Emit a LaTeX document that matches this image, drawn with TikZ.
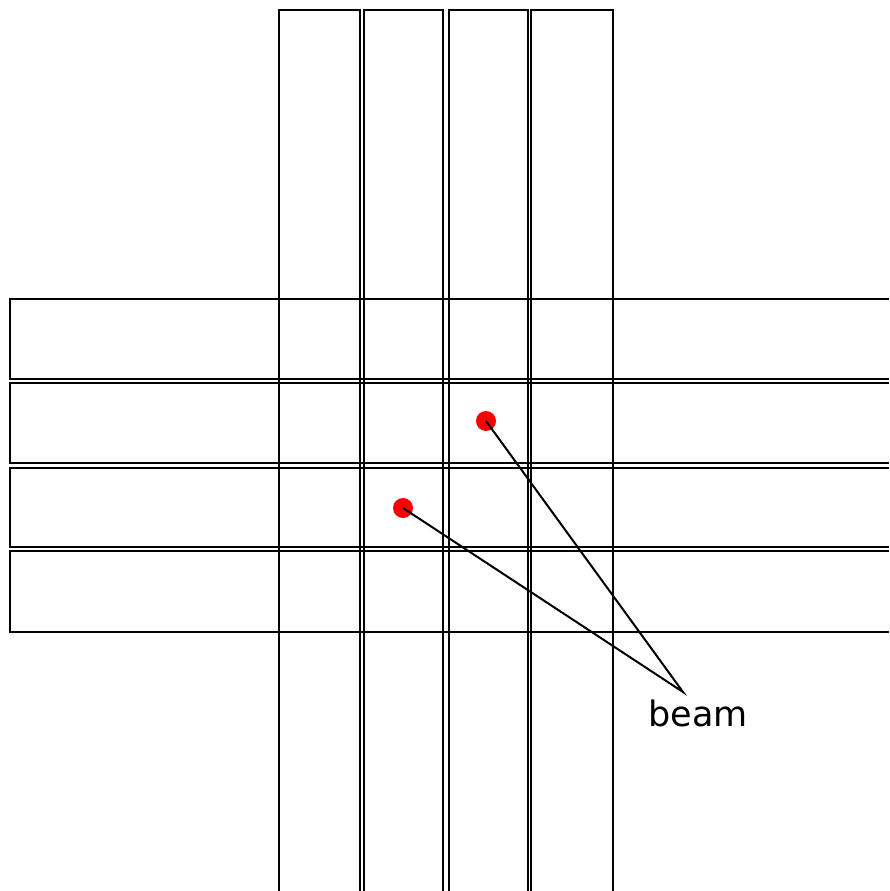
\documentclass[tikz,border=0pt]{standalone}
\usepackage{fontspec}
\setmainfont{DejaVu Sans}
\begin{document}
\begin{tikzpicture}[x=1pt,y=-1pt,
  strip/.style={draw=black,line width=1.8pt},
  beamdot/.style={circle,fill=red,inner sep=0pt,minimum size=20pt},
  lbl/.style={font=\fontsize{35}{40}\selectfont,inner sep=0pt}]
\useasboundingbox (0,0) rectangle (889,891);
% vertical strips (open at bottom)
\foreach \a/\b in {279/360,364/443,449/528,531/613}{
  \draw[strip] (\a,891) -- (\a,10) -- (\b,10) -- (\b,891);
}
% horizontal strips (open at right)
\foreach \a/\b in {299/379,383/463,468/547,551/632}{
  \draw[strip] (889,\a) -- (10,\a) -- (10,\b) -- (889,\b);
}
\node[beamdot] (d1) at (486,421) {};
\node[beamdot] (d2) at (403,508) {};
\coordinate (m) at (683,692);
\node[lbl,anchor=base] (beam) at (698,726) {beam};
\draw[line width=2pt] (d1.center) -- (m) -- (d2.center);
\end{tikzpicture}
\end{document}
